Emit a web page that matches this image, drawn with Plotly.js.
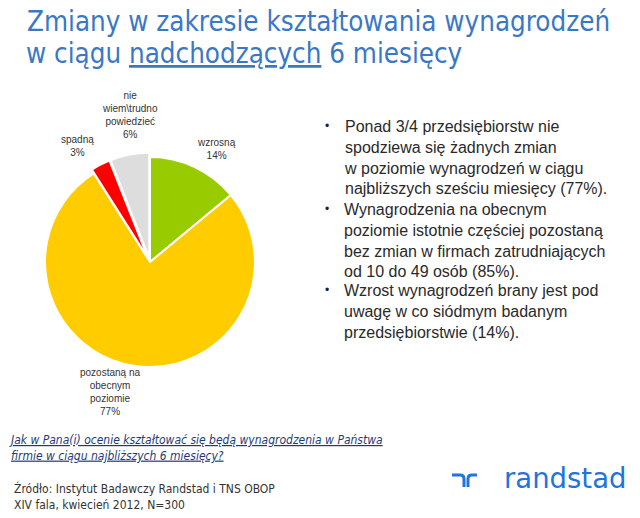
<!DOCTYPE html>
<html>
<head>
<meta charset="utf-8">
<script src="https://cdn.plot.ly/plotly-3.0.1.min.js"></script>
<style>html,body{margin:0;padding:0;background:#fff;}#chart{width:640px;height:518px;}</style>
</head>
<body>
<div id="chart"></div>
<script>
// ---- data ----
var categories = ['wzrosną', 'pozostaną na obecnym poziomie', 'spadną', 'nie wiem\\trudno powiedzieć'];
var labelText = ['wzrosną', 'pozostaną na<br>obecnym<br>poziomie', 'spadną', 'nie<br>wiem\\trudno<br>powiedzieć'];
var shares = [14, 77, 3, 6];
var sliceColors = ['#99CC00', '#FFCC00', '#FF0000', '#DDDDDD'];
var pulls = [0, 0, 0.04, 0.04];
// label anchor points (pixel, centre of each label block)
var labelX = [216, 110, 77, 130];
var labelY = [149, 392, 146, 115];

var titleLine1 = 'Zmiany w zakresie kształtowania wynagrodzeń';
var titleLine2 = 'w ciągu <span style="text-decoration:underline">nadchodzących</span> 6 miesięcy';

var bullets = [
  'Ponad 3/4 przedsiębiorstw nie<br>spodziewa się żadnych zmian<br>w poziomie wynagrodzeń w ciągu<br>najbliższych sześciu miesięcy (77%).',
  'Wynagrodzenia na obecnym<br>poziomie istotnie częściej pozostaną<br>bez zmian w firmach zatrudniających<br>od 10 do 49 osób (85%).',
  'Wzrost wynagrodzeń brany jest pod<br>uwagę w co siódmym badanym<br>przedsiębiorstwie (14%).'
];
var bulletTops = [116, 199, 280];

var question = '<i><span style="text-decoration:underline">Jak w Pana(i) ocenie kształtować się będą wynagrodzenia w Państwa</span><br><span style="text-decoration:underline">firmie w ciągu najbliższych 6 miesięcy?</span></i>';
var source = 'Źródło: Instytut Badawczy Randstad i TNS OBOP<br>XIV fala, kwiecień 2012, N=300';

// ---- layout helpers ----
var W = 640, H = 518;
function px(x) { return x / W; }
function py(y) { return 1 - y / H; }

var trace = {
  type: 'pie',
  labels: categories,
  values: shares,
  textinfo: 'none',
  sort: false,
  direction: 'clockwise',
  rotation: 0,
  pull: pulls,
  marker: { colors: sliceColors, line: { color: '#FFFFFF', width: 2 } },
  domain: { x: [px(40.8), px(259.2)], y: [py(371.2), py(152.8)] },
  showlegend: false,
  hoverinfo: 'label+percent'
};

var annotations = [];
labelText.forEach(function (l, i) {
  annotations.push({
    xref: 'paper', yref: 'paper', x: px(labelX[i]), y: py(labelY[i]), xanchor: 'center', yanchor: 'middle',
    text: l + '<br>' + shares[i] + '%', showarrow: false, align: 'center',
    font: { family: 'Liberation Sans, Arial, sans-serif', size: 10, color: '#333333' }
  });
});
annotations.push({
  xref: 'paper', yref: 'paper', x: px(24), y: py(35), xanchor: 'left', yanchor: 'top',
  text: titleLine2, showarrow: false, align: 'left',
  font: { family: 'DejaVu Sans Condensed, Tahoma, sans-serif', size: 27.5, color: '#3A78C6' }
});
bullets.forEach(function (b, i) {
  annotations.push({
    xref: 'paper', yref: 'paper', x: px(323), y: py(bulletTops[i] + 1), xanchor: 'left', yanchor: 'top',
    text: '•', showarrow: false, align: 'left',
    font: { family: 'Liberation Sans, Arial, sans-serif', size: 12, color: '#222222' }
  });
  annotations.push({
    xref: 'paper', yref: 'paper', x: px(342), y: py(bulletTops[i]), xanchor: 'left', yanchor: 'top',
    text: b, showarrow: false, align: 'left',
    font: { family: 'Liberation Sans, Arial, sans-serif', size: 16, color: '#2A2A2A' }
  });
});
annotations.push({
  xref: 'paper', yref: 'paper', x: px(7), y: py(431), xanchor: 'left', yanchor: 'top',
  text: question, showarrow: false, align: 'left',
  font: { family: 'DejaVu Sans Condensed, Tahoma, sans-serif', size: 12, color: '#1F3A7A' }
});
annotations.push({
  xref: 'paper', yref: 'paper', x: px(12), y: py(479), xanchor: 'left', yanchor: 'top',
  text: source, showarrow: false, align: 'left',
  font: { family: 'DejaVu Sans Condensed, Tahoma, sans-serif', size: 12, color: '#333333' }
});
annotations.push({
  xref: 'paper', yref: 'paper', x: px(502), y: py(460), xanchor: 'left', yanchor: 'top',
  text: 'randstad', showarrow: false, align: 'left',
  font: { family: 'DejaVu Sans, sans-serif', size: 27.5, color: '#2175D9' }
});

function P(x, y) { return px(x).toFixed(5) + ',' + py(y).toFixed(5); }
var shapes = [
  { type: 'path', xref: 'paper', yref: 'paper',
    path: 'M' + P(452, 475) + ' L' + P(460, 475) + ' Q' + P(464, 475) + ' ' + P(464, 479) + ' L' + P(464, 487),
    line: { color: '#2175D9', width: 3 } },
  { type: 'path', xref: 'paper', yref: 'paper',
    path: 'M' + P(468, 487) + ' L' + P(468, 479) + ' Q' + P(468, 475) + ' ' + P(472, 475) + ' L' + P(477, 475),
    line: { color: '#2175D9', width: 3 } }
];

var layout = {
  width: W, height: H,
  margin: { l: 0, r: 0, t: 0, b: 0 },
  paper_bgcolor: '#FFFFFF',
  plot_bgcolor: '#FFFFFF',
  title: {
    text: titleLine1,
    x: px(27), xref: 'paper', xanchor: 'left',
    y: 1 - 12 / H, yref: 'container', yanchor: 'top',
    font: { family: 'DejaVu Sans Condensed, Tahoma, sans-serif', size: 27.5, color: '#3A78C6' }
  },
  annotations: annotations,
  shapes: shapes
};

Plotly.newPlot('chart', [trace], layout, { displayModeBar: false, staticPlot: true });
</script>
</body>
</html>
